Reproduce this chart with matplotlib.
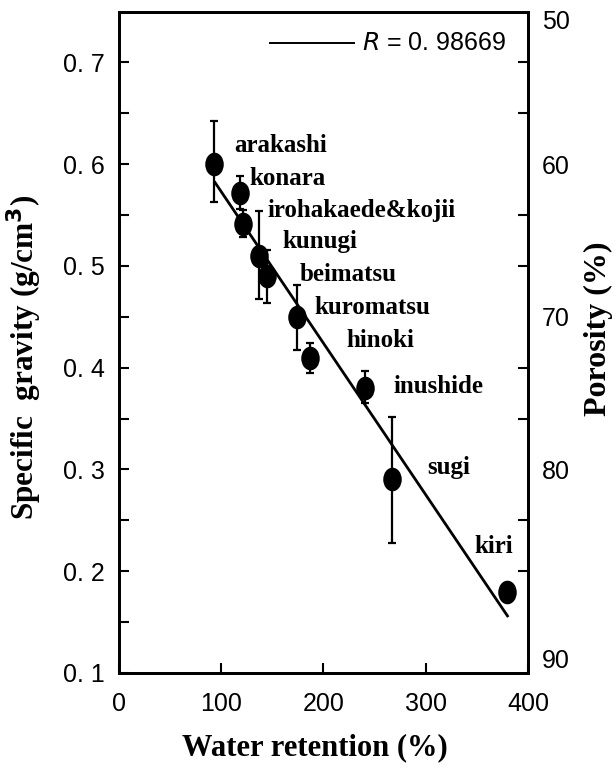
import matplotlib
matplotlib.use("Agg")
import matplotlib.pyplot as plt
import matplotlib.transforms as mtransforms
from matplotlib.path import Path
import numpy as np

# ---- data ----
species = ["arakashi", "konara", "irohakaede&kojii", "kunugi", "beimatsu",
           "kuromatsu", "hinoki", "inushide", "sugi", "kiri"]
water_ret = [93, 118, 121, 137, 145, 174, 187, 241, 267, 380]
sg = [0.600, 0.572, 0.541, 0.510, 0.490, 0.450, 0.409, 0.380, 0.291, 0.179]
err_up = [0.042, 0.016, 0.014, 0.044, 0.026, 0.031, 0.015, 0.017, 0.060, 0.0]
err_dn = [0.037, 0.016, 0.013, 0.043, 0.026, 0.033, 0.014, 0.015, 0.063, 0.0]

# regression line end points
fit_x = [94, 380]
fit_y = [0.582, 0.156]
r_value = "0. 98669"

# label anchor positions (left edge, centre)
lab_x = [113, 128, 145, 160, 177, 191, 223, 269, 302, 348]
lab_y = [0.618, 0.586, 0.554, 0.524, 0.492, 0.459, 0.427, 0.381, 0.302, 0.224]

sg_ticks = [0.1, 0.2, 0.3, 0.4, 0.5, 0.6, 0.7]
sg_ticklabels = ["0. 1", "0. 2", "0. 3", "0. 4", "0. 5", "0. 6", "0. 7"]
por_ticks = [50, 60, 70, 80, 90]
x_ticks = [0, 100, 200, 300, 400]

tick_font = ["Liberation Sans Narrow", "Liberation Sans", "DejaVu Sans"]
serif = ["Liberation Serif", "DejaVu Serif"]

# slightly tall elliptical marker like the scanned original
circ = Path.unit_circle()
ellipse = Path(circ.vertices * np.array([0.77, 1.0]), circ.codes)

fig = plt.figure(figsize=(6.16, 7.69), dpi=100)
ax = fig.add_axes([0.193, 0.125, 0.664, 0.860])

ax.errorbar(water_ret, sg, yerr=[err_dn, err_up], fmt="none", ecolor="black",
            elinewidth=1.6, capsize=3, capthick=1.6, zorder=3)
ax.plot(water_ret, sg, ls="none", marker=ellipse, ms=16, color="black",
        zorder=4)
ax.plot(fit_x, fit_y, color="black", lw=2.0, zorder=2)

for name, x, y in zip(species, lab_x, lab_y):
    ax.text(x, y, name, ha="left", va="center", fontsize=18,
            fontweight="bold", family=serif)

# legend-like note
ax.plot([148, 230], [0.719, 0.719], color="black", lw=1.4)
ax.text(238, 0.719, r"$R$ = " + r_value, ha="left", va="center",
        fontsize=18, family=tick_font)

ax.set_xlim(0, 400)
ax.set_ylim(0.1, 0.75)

ax.set_xticks(x_ticks)
ax.set_xticklabels([str(v) for v in x_ticks], family=tick_font, fontsize=18)
ax.set_yticks(sg_ticks)
ax.set_yticklabels(sg_ticklabels, family=tick_font, fontsize=18)
ax.set_yticks(np.arange(0.15, 0.70, 0.1), minor=True)
ax.tick_params(axis="both", which="both", direction="in", length=7, width=1.5)
ax.tick_params(axis="x", pad=14)
ax.tick_params(axis="y", pad=10)
ax.tick_params(top=False, right=False)
for sp in ax.spines.values():
    sp.set_linewidth(2.0)

ax.set_xlabel("Water retention (%)", fontsize=22, fontweight="bold",
              family=serif)
ax.xaxis.set_label_coords(0.48, -0.092)
ax.set_ylabel("Specific  gravity (g/cm$^\\mathbf{3}$)", fontsize=22.5,
              fontweight="bold", family=serif)
ax.yaxis.set_label_coords(-0.182, 0.477)

# right axis: porosity, computed from specific gravity (density 1.5)
ax2 = ax.twinx()
ax2.set_ylim(ax.get_ylim())
por_pos = [1.5 * (1 - p / 100.0) for p in por_ticks]
ax2.set_yticks(por_pos)
ax2.set_yticklabels([str(p) for p in por_ticks], family=tick_font, fontsize=18)
ax2.set_yticks(np.arange(0.15, 0.71, 0.05), minor=True)
ax2.tick_params(axis="y", which="major", length=0, pad=10)
ax2.tick_params(axis="y", which="minor", direction="in", length=7, width=1.5)
ax2.set_ylabel("Porosity (%)", fontsize=23, fontweight="bold", family=serif)
ax2.yaxis.set_label_coords(1.137, 0.52)
for sp in ax2.spines.values():
    sp.set_linewidth(2.0)

# the outer labels sit a little lower in the original
lbls = ax2.get_yticklabels()
lbls[0].set_transform(lbls[0].get_transform() +
                      mtransforms.ScaledTranslation(0, -8 / 100, fig.dpi_scale_trans))
lbls[-1].set_transform(lbls[-1].get_transform() +
                       mtransforms.ScaledTranslation(0, -36 / 100, fig.dpi_scale_trans))

fig.savefig("out.png", dpi=100)
